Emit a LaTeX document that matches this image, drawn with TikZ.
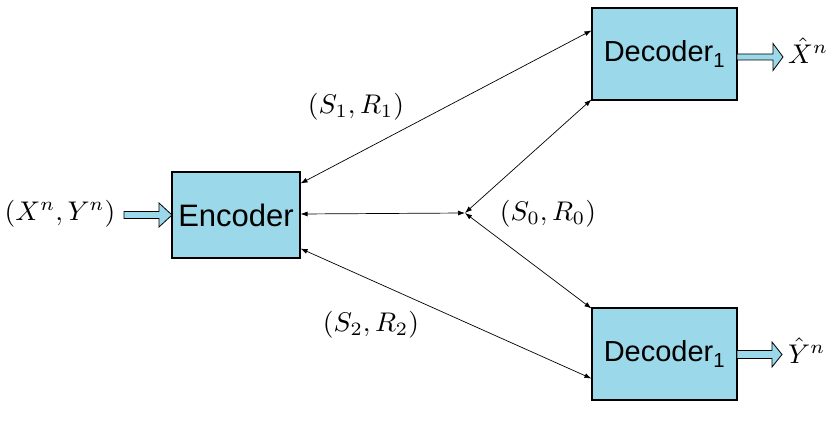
\documentclass[tikz,border=0pt]{standalone}
\usepackage{fontspec}
\usepackage{graphicx}
\newfontfamily\boxfont{Liberation Sans}
\usetikzlibrary{arrows.meta}
\definecolor{boxblue}{RGB}{155,217,234}
\newcommand{\mlab}[1]{\scalebox{2.75}[2.7]{\normalsize$#1$}}
\begin{document}
\begin{tikzpicture}[x=1pt,y=-1pt,
  blk/.style={draw=black,line width=1.1pt,fill=boxblue,inner sep=0pt},
  encfont/.style={font=\boxfont\fontsize{31}{34}\selectfont},
  decfont/.style={font=\boxfont\fontsize{29}{32}\selectfont},
  link/.style={line width=0.7pt,{Latex[length=7pt,width=5pt]}-{Latex[length=7pt,width=5pt]}},
  fat/.style={draw=black,line width=0.8pt,fill=boxblue}]
\useasboundingbox (0,0) rectangle (839,425);
\node[blk,encfont,minimum width=128pt,minimum height=86pt] (enc) at (236,215) {Encoder};
\node[blk,decfont,minimum width=145pt,minimum height=92pt] (dec1) at (664.5,54) {Decoder\textsubscript{1}};
\node[blk,decfont,minimum width=145pt,minimum height=92pt] (dec2) at (664.5,354) {Decoder\textsubscript{1}};
\coordinate (j) at (465,213);
% labels
\node (in) at (60,214) {\mlab{(X^n,Y^n)}};
\node (l1) at (356,107) {\mlab{(S_1,R_1)}};
\node (l0) at (548,214) {\mlab{(S_0,R_0)}};
\node (l2) at (371,325) {\mlab{(S_2,R_2)}};
\node[inner sep=0pt,anchor=west] (xh) at (788,51) {\mlab{\hat{X}^n}};
\node[inner sep=0pt,anchor=west] (yh) at (788,351) {\mlab{\hat{Y}^n}};
% connectors
\draw[link] ([yshift=-12pt]enc.north east) -- ([yshift=-23pt]dec1.north west);
\draw[link] ([yshift=1pt]enc.east) -- (j);
\draw[link] (j) -- ([yshift=1pt]dec1.south west);
\draw[link] (j) -- ([yshift=-1pt]dec2.north west);
\draw[link] ([yshift=10pt]enc.south east) -- ([yshift=22pt]dec2.south west);
% block arrows
\draw[fat] (124,211.5) -- (159,211.5) -- (159,203) -- (172,215) -- (159,227) -- (159,218.5) -- (124,218.5) -- cycle;
\draw[fat] (737,54) -- (773,54) -- (773,43.5) -- (783,57) -- (773,70.5) -- (773,60) -- (737,60) -- cycle;
\draw[fat] (737,350.5) -- (772,350.5) -- (772,342) -- (782,354.5) -- (772,367) -- (772,358.5) -- (737,358.5) -- cycle;
\end{tikzpicture}
\end{document}
